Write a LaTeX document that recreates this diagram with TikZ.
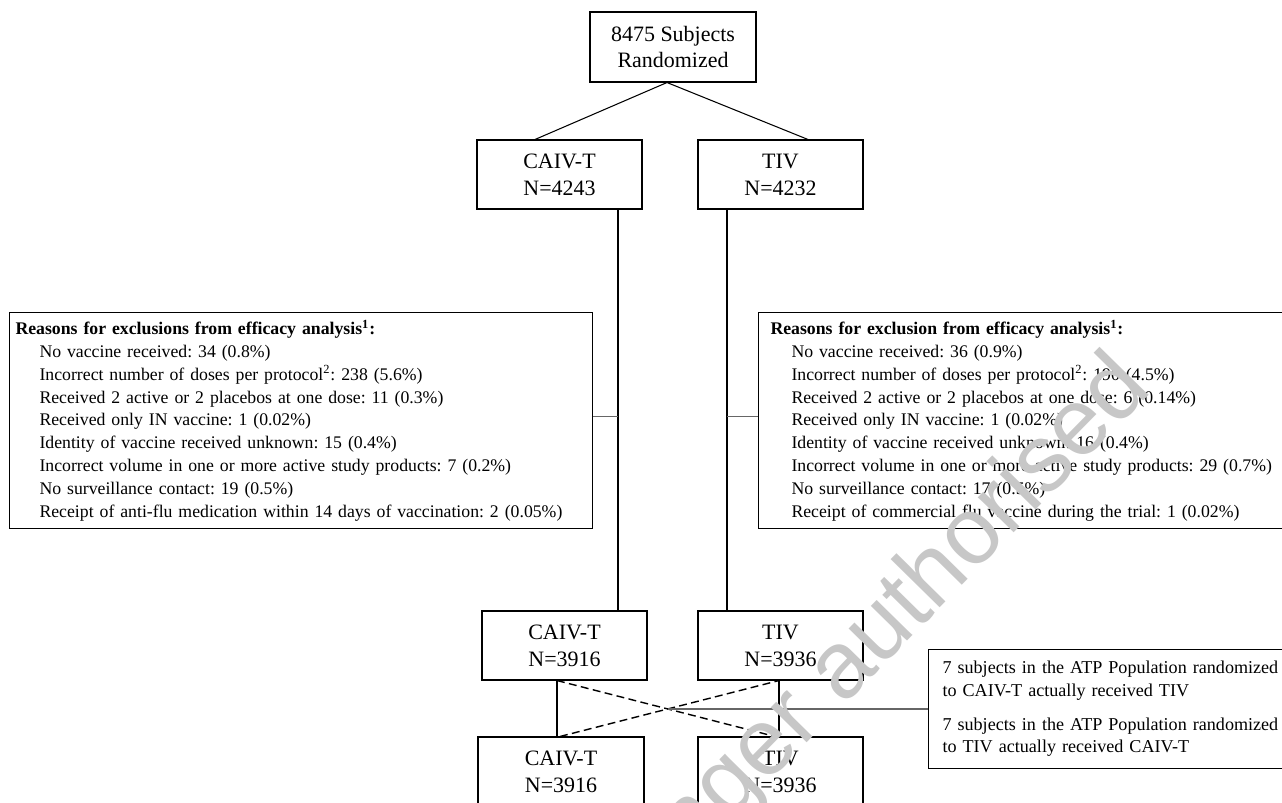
\documentclass[tikz,border=0pt]{standalone}
\usepackage{fontspec}
\setmainfont{Liberation Serif}
\newfontfamily\wmfont{Liberation Sans}
\usetikzlibrary{calc}
\frenchspacing
\begin{document}
\begin{tikzpicture}[x=0.02cm,y=-0.02cm,
  box/.style={draw, line width=0.6pt, inner sep=0pt, align=center, font=\fontsize{12.5}{15.3}\selectfont},
  exbox/.style={draw, line width=0.6pt, align=left, font=\fontsize{10.1}{13}\selectfont, anchor=north west, inner ysep=0pt},
  link/.style={line width=0.6pt},
  glink/.style={line width=0.7pt, draw=black!60},
  swap/.style={line width=0.8pt, dash pattern=on 4.5pt off 2.5pt},
  watermark/.style={text=black!22, font=\wmfont\fontsize{54}{54}\selectfont, inner sep=0pt}]
\useasboundingbox (0,0) rectangle (1282,802);
\clip (0,0) rectangle (1282,802);

% boxes
\node[box, minimum width=3.32cm, minimum height=1.4cm] (top) at (673,47) {8475 Subjects\\Randomized};
\node[box, minimum width=3.3cm, minimum height=1.38cm] (caiv1) at (559.5,174.5) {CAIV-T\\N=4243};
\node[box, minimum width=3.3cm, minimum height=1.38cm] (tiv1) at (780.5,174.5) {TIV\\N=4232};
\node[box, minimum width=3.3cm, minimum height=1.38cm] (caiv2) at (564.5,645.5) {CAIV-T\\N=3916};
\node[box, minimum width=3.3cm, minimum height=1.38cm] (tiv2) at (780.5,645.5) {TIV\\N=3936};
\node[box, minimum width=3.32cm, minimum height=1.38cm] (caiv3) at (561,771.5) {CAIV-T\\N=3916};
\node[box, minimum width=3.3cm, minimum height=1.38cm] (tiv3) at (780.5,771.5) {TIV\\N=3936};

\node[exbox, text width=11.42cm, minimum height=4.32cm, inner xsep=0.12cm] (exL) at (9,312) {%
\textbf{Reasons for exclusions from efficacy analysis\textsuperscript{1}:}\\
\hspace*{0.48cm}No vaccine received: 34 (0.8\%)\\
\hspace*{0.48cm}Incorrect number of doses per protocol\textsuperscript{2}: 238 (5.6\%)\\
\hspace*{0.48cm}Received 2 active or 2 placebos at one dose: 11 (0.3\%)\\
\hspace*{0.48cm}Received only IN vaccine: 1 (0.02\%)\\
\hspace*{0.48cm}Identity of vaccine received unknown: 15 (0.4\%)\\
\hspace*{0.48cm}Incorrect volume in one or more active study products: 7 (0.2\%)\\
\hspace*{0.48cm}No surveillance contact: 19 (0.5\%)\\
\hspace*{0.48cm}Receipt of anti-flu medication within 14 days of vaccination: 2 (0.05\%)};

\node[exbox, text width=10.96cm, minimum height=4.32cm, inner xsep=0.24cm] (exR) at (758,312) {%
\textbf{Reasons for exclusion from efficacy analysis\textsuperscript{1}:}\\
\hspace*{0.42cm}No vaccine received: 36 (0.9\%)\\
\hspace*{0.42cm}Incorrect number of doses per protocol\textsuperscript{2}: 190 (4.5\%)\\
\hspace*{0.42cm}Received 2 active or 2 placebos at one dose: 6 (0.14\%)\\
\hspace*{0.42cm}Received only IN vaccine: 1 (0.02\%)\\
\hspace*{0.42cm}Identity of vaccine received unknown: 16 (0.4\%)\\
\hspace*{0.42cm}Incorrect volume in one or more active study products: 29 (0.7\%)\\
\hspace*{0.42cm}No surveillance contact: 17 (0.5\%)\\
\hspace*{0.42cm}Receipt of commercial flu vaccine during the trial: 1 (0.02\%)};

\node[exbox, font=\fontsize{10.3}{13}\selectfont, text width=7.48cm, minimum height=2.38cm, inner xsep=0.28cm] (note) at (928,649) {%
7 subjects in the ATP Population randomized\\
to CAIV-T actually received TIV\\[6pt]
7 subjects in the ATP Population randomized\\
to TIV actually received CAIV-T};

% connectors
\draw[link] ([xshift=-0.12cm]top.south) -- ([xshift=-0.49cm]caiv1.north);
\draw[link] ([xshift=-0.12cm]top.south) -- ([xshift=0.55cm]tiv1.north);

\coordinate (vL) at ([xshift=1.17cm]caiv1.south);
\coordinate (vR) at ([xshift=-1.07cm]tiv1.south);
\draw[link] (vL) -- (vL |- caiv2.north);
\draw[link] (vR) -- (vR |- tiv2.north);
\draw[glink] ([yshift=0.08cm]exL.east) -- ([yshift=0.08cm]exL.east -| vL);
\draw[glink] ([yshift=0.08cm]exR.west) -- ([yshift=0.08cm]exR.west -| vR);

\coordinate (a) at ([xshift=-0.15cm]caiv2.south);
\coordinate (b) at ([xshift=-0.03cm]tiv2.south);
\coordinate (c) at ([xshift=-0.02cm]caiv3.north);
\coordinate (d) at ([xshift=-0.11cm]tiv3.north);
\draw[link] (a) -- (a |- caiv3.north);
\draw[link] (b) -- (b |- tiv3.north);
\draw[swap] (a) -- (d);
\draw[swap] (c) -- (b);
\coordinate (X) at (intersection of a--d and c--b);
\draw[glink] (X) -- (X -| note.west);

% watermark
\node[watermark, rotate=45.5, anchor=base east] (wm) at (1154,390) {No longer authorised};
\end{tikzpicture}
\end{document}
